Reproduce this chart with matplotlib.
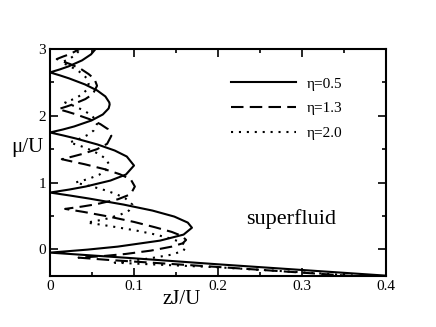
import numpy as np
import matplotlib
matplotlib.use("Agg")
import matplotlib.pyplot as plt
from matplotlib.ticker import MultipleLocator

plt.rcParams['font.family'] = ['Liberation Serif', 'DejaVu Serif']

# phase boundaries, one continuous curve per eta,
# starting at the bottom (vacuum boundary) and going up through the lobes
eta05_zj = [0.40, 0.30, 0.20, 0.10, 0.0,
            0.0446, 0.0806, 0.131, 0.159, 0.169, 0.164, 0.148, 0.122, 0.0875, 0.0466, 0.024, 0.0,
            0.0229, 0.0424, 0.072, 0.0904, 0.100, 0.0914, 0.077, 0.0566, 0.0307, 0.0159, 0.0,
            0.0154, 0.0287, 0.0494, 0.0629, 0.0698, 0.071, 0.0706, 0.0659, 0.0561, 0.0416, 0.0228, 0.0119, 0.0,
            0.0117, 0.022, 0.0381, 0.0488, 0.0542]
eta05_mu = [-0.395, -0.31, -0.225, -0.135, -0.05,
            -0.005, 0.04, 0.13, 0.22, 0.323, 0.40, 0.49, 0.58, 0.67, 0.76, 0.805, 0.85,
            0.895, 0.94, 1.03, 1.12, 1.255, 1.39, 1.48, 1.57, 1.66, 1.705, 1.75,
            1.795, 1.84, 1.93, 2.02, 2.11, 2.168, 2.20, 2.29, 2.38, 2.47, 2.56, 2.605, 2.65,
            2.695, 2.74, 2.83, 2.92, 3.0]

eta13_zj = [0.36, 0.30, 0.20, 0.12, 0.07, 0.034,
            0.06, 0.09, 0.12, 0.145, 0.158, 0.162, 0.157, 0.145, 0.125, 0.10, 0.07, 0.04, 0.018,
            0.038, 0.055, 0.081, 0.096, 0.101, 0.096, 0.083, 0.065, 0.041, 0.028, 0.014,
            0.027, 0.039, 0.056, 0.068, 0.073, 0.069, 0.060, 0.047, 0.030, 0.021, 0.010,
            0.020, 0.028, 0.042, 0.051, 0.056, 0.053, 0.046, 0.037, 0.024, 0.016, 0.008,
            0.016, 0.024, 0.035]
eta13_mu = [-0.40, -0.35, -0.265, -0.20, -0.16, -0.125,
            -0.105, -0.07, -0.02, 0.04, 0.09, 0.14, 0.20, 0.26, 0.33, 0.41, 0.49, 0.56, 0.605,
            0.64, 0.675, 0.75, 0.825, 0.94, 1.05, 1.125, 1.20, 1.275, 1.31, 1.35,
            1.39, 1.43, 1.50, 1.58, 1.70, 1.80, 1.875, 1.95, 2.025, 2.06, 2.10,
            2.14, 2.175, 2.25, 2.325, 2.45, 2.55, 2.625, 2.70, 2.775, 2.81, 2.85,
            2.89, 2.925, 3.0]

eta20_zj = [0.37, 0.30, 0.20, 0.12, 0.077,
            0.096, 0.117, 0.145, 0.159, 0.162, 0.157, 0.144, 0.126, 0.103, 0.075, 0.060, 0.044,
            0.057, 0.068, 0.084, 0.094, 0.098, 0.090, 0.080, 0.067, 0.050, 0.040, 0.030,
            0.039, 0.047, 0.059, 0.066, 0.070, 0.066, 0.059, 0.050, 0.038, 0.031, 0.023,
            0.030, 0.036, 0.046, 0.052, 0.056, 0.053, 0.048, 0.040, 0.030, 0.024, 0.018,
            0.024, 0.030, 0.038, 0.043, 0.046, 0.044, 0.039, 0.033, 0.024, 0.019, 0.014,
            0.019, 0.024, 0.031, 0.036]
eta20_mu = [-0.40, -0.345, -0.27, -0.225, -0.20,
            -0.17, -0.14, -0.08, -0.02, 0.05, 0.10, 0.16, 0.22, 0.28, 0.34, 0.37, 0.40,
            0.43, 0.46, 0.52, 0.58, 0.67, 0.76, 0.82, 0.88, 0.94, 0.97, 1.0,
            1.03, 1.06, 1.12, 1.18, 1.28, 1.36, 1.42, 1.48, 1.54, 1.57, 1.60,
            1.63, 1.66, 1.72, 1.78, 1.88, 1.96, 2.02, 2.08, 2.14, 2.17, 2.20,
            2.23, 2.26, 2.32, 2.38, 2.48, 2.56, 2.62, 2.68, 2.74, 2.77, 2.80,
            2.83, 2.86, 2.92, 3.0]

labels = ['η=0.5', 'η=1.3', 'η=2.0']

fig = plt.figure(figsize=(4.36, 3.27), dpi=100)
ax = fig.add_axes([0.1147, 0.156, 0.7706, 0.694])

ax.plot(eta05_zj, eta05_mu, color='black', lw=1.5, ls='-', label=labels[0])
ax.plot(eta13_zj, eta13_mu, color='black', lw=1.5, dashes=(6, 3), label=labels[1])
ax.plot(eta20_zj, eta20_mu, color='black', lw=1.5, dashes=(1, 2.8), label=labels[2])

ax.set_xlim(0, 0.4)
ax.set_ylim(-0.4, 3)
ax.xaxis.set_major_locator(MultipleLocator(0.1))
ax.xaxis.set_minor_locator(MultipleLocator(0.05))
ax.yaxis.set_major_locator(MultipleLocator(1))
ax.yaxis.set_minor_locator(MultipleLocator(0.5))
ax.xaxis.set_major_formatter(plt.FuncFormatter(lambda v, p: '0' if abs(v) < 1e-9 else f'{v:.1f}'))
ax.tick_params(which='both', direction='in', top=True, right=True, width=1.2, labelsize=11)
ax.tick_params(which='major', length=6, pad=3)
ax.tick_params(which='minor', length=3)
for sp in ax.spines.values():
    sp.set_linewidth(1.5)

ax.text(0.393, -0.105, 'zJ/U', transform=ax.transAxes, fontsize=15, ha='center', va='center')
ax.text(-0.067, 0.564, 'μ/U', transform=ax.transAxes, fontsize=15, ha='center', va='center')
ax.text(0.287, 0.45, 'superfluid', fontsize=16, ha='center', va='center')

ax.legend(loc='upper left', bbox_to_anchor=(0.54, 0.877), frameon=False, fontsize=11,
          handlelength=4.2, handletextpad=0.7, labelspacing=0.72, borderpad=0, borderaxespad=0)

fig.savefig('out.png', dpi=100)
